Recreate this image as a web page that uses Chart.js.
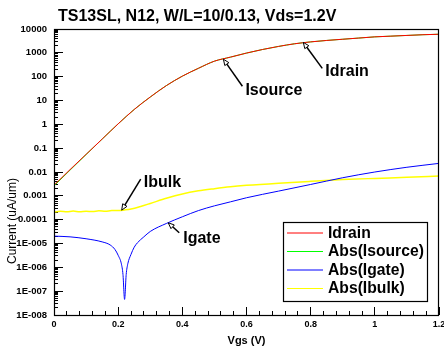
<!DOCTYPE html>
<html>
<head>
<meta charset="utf-8">
<script src="https://cdn.jsdelivr.net/npm/chart.js@4.4.1/dist/chart.umd.min.js"></script>
<style>
  html, body { margin: 0; padding: 0; background: #fff; }
  #wrap { width: 444px; height: 349px; }
</style>
</head>
<body>
<div id="wrap"><canvas id="ivChart"></canvas></div>
<script>
// Vgs sweep (V) for drain / source curves
const vgs = [0, 0.05, 0.1, 0.15, 0.2, 0.25, 0.3, 0.35, 0.4, 0.45, 0.5, 0.55, 0.6,
             0.65, 0.7, 0.75, 0.8, 0.85, 0.9, 0.95, 1.0, 1.05, 1.1, 1.15, 1.2];
const idrain = [2.8e-3, 1.26e-2, 5.5e-2, 0.24, 1.05, 4.2, 14, 42, 105, 224, 447, 660, 977,
                1380, 1860, 2400, 2880, 3310, 3720, 4170, 4680, 5010, 5370, 5750, 6030];
const isource = [2.6e-3, 1.2e-2, 5.4e-2, 0.24, 1.05, 4.2, 14, 42, 105, 224, 447, 660, 977,
                 1380, 1860, 2400, 2880, 3310, 3720, 4170, 4680, 5010, 5370, 5750, 6030];

// gate current, finer around the sign change
const vgsGate = [0, 0.05, 0.1, 0.15, 0.175, 0.19, 0.2, 0.21, 0.215, 0.22, 0.225, 0.23, 0.24,
                 0.25, 0.26, 0.28, 0.3, 0.35, 0.4, 0.45, 0.5, 0.55, 0.6, 0.7, 0.8, 0.9, 1.0, 1.1, 1.2];
const igate = [2.04e-5, 1.9e-5, 1.58e-5, 1.17e-5, 8.7e-6, 5.6e-6, 3.2e-6, 1.4e-6, 5e-7, 4.5e-8,
               5e-7, 1.4e-6, 3.5e-6, 7e-6, 1.07e-5, 1.9e-5, 3.2e-5, 6.9e-5, 1.32e-4, 2.4e-4,
               3.8e-4, 5.6e-4, 8.3e-4, 1.58e-3, 3.0e-3, 5.75e-3, 1.0e-2, 1.58e-2, 2.3e-2];

// bulk current (noisy at low Vgs)
const vgsBulk = [0, 0.02, 0.04, 0.06, 0.08, 0.1, 0.12, 0.14, 0.16, 0.18, 0.2, 0.22, 0.24,
                 0.27, 0.3, 0.35, 0.4, 0.45, 0.5, 0.55, 0.6, 0.7, 0.8, 0.9, 1.0, 1.1, 1.2];
const ibulk = [2.09e-4, 2.24e-4, 2.14e-4, 2.29e-4, 2.14e-4, 2.24e-4, 2.19e-4, 2.34e-4, 2.24e-4,
               2.4e-4, 2.4e-4, 2.57e-4, 2.82e-4, 3.6e-4, 4.8e-4, 7.9e-4, 1.2e-3, 1.62e-3, 2.0e-3,
               2.4e-3, 2.75e-3, 3.4e-3, 4.07e-3, 4.8e-3, 5.4e-3, 6.0e-3, 6.8e-3];

const seriesLabels = ['Idrain', 'Abs(Isource)', 'Abs(Igate)', 'Abs(Ibulk)'];
const seriesColors = ['#ff0000', '#00ff00', '#0000ff', '#ffff00'];

const xTicks = [0, 0.2, 0.4, 0.6, 0.8, 1.0, 1.2];
const xTickLabels = ['0', '0.2', '0.4', '0.6', '0.8', '1', '1.2'];
const yTicks = [1e-8, 1e-7, 1e-6, 1e-5, 1e-4, 1e-3, 1e-2, 1e-1, 1, 10, 100, 1000, 10000];
const yTickLabels = ['1E-008', '1E-007', '1E-006', '1E-005', '0.0001', '0.001', '0.01', '0.1',
                     '1', '10', '100', '1000', '10000'];

// callouts: tip in data units, offsets in px
const callouts = [
    { text: 'Idrain',  x: 0.777, y: 2750,   tx: 22, ty: 34, ax: 19, ay: 26 },
    { text: 'Isource', x: 0.528, y: 540,    tx: 22, ty: 36, ax: 19, ay: 27 },
    { text: 'Ibulk',   x: 0.211, y: 2.5e-4, tx: 22, ty: -23, ax: 19, ay: -31 },
    { text: 'Igate',   x: 0.356, y: 7.4e-5, tx: 15, ty: 20, ax: 11, ay: 10 }
];

const FONT = '"Liberation Sans", Arial, sans-serif';

// minor tick positions (2..9 per decade, 0.04 V steps)
const yMinorTicks = [];
for (let d = -8; d < 4; d++) {
    for (let m = 2; m <= 9; m++) yMinorTicks.push(m * Math.pow(10, d));
}
const xMinorTicks = [];
for (let k = 0; k <= 30; k++) xMinorTicks.push(+(k * 0.04).toFixed(2));

function pts(xs, ys) {
    return xs.map((x, i) => ({ x: x, y: ys[i] }));
}

const decorPlugin = {
    id: 'decor',
    afterDraw(chart) {
        const ctx = chart.ctx;
        const area = chart.chartArea;
        const xs = chart.scales.x;
        const ys = chart.scales.y;
        ctx.save();

        // frame
        ctx.strokeStyle = '#000';
        ctx.lineWidth = 1.2;
        ctx.strokeRect(area.left + 0.5, area.top + 0.5, area.right - area.left - 1, area.bottom - area.top);

        // title
        ctx.fillStyle = '#000';
        ctx.font = 'bold 16px ' + FONT;
        ctx.textAlign = 'left';
        ctx.textBaseline = 'alphabetic';
        ctx.fillText('TS13SL, N12, W/L=10/0.13, Vds=1.2V', 58, 21);

        // axis titles
        ctx.font = 'bold 11px ' + FONT;
        ctx.textAlign = 'center';
        ctx.textBaseline = 'middle';
        ctx.fillText('Vgs (V)', (area.left + area.right) / 2, 341);
        ctx.save();
        ctx.translate(13, 221);
        ctx.rotate(-Math.PI / 2);
        ctx.font = '12px ' + FONT;
        ctx.fillText('Current (uA/um)', 0, 0);
        ctx.restore();

        // callouts
        ctx.font = 'bold 16px ' + FONT;
        ctx.textAlign = 'left';
        ctx.textBaseline = 'alphabetic';
        callouts.forEach(c => {
            const px = xs.getPixelForValue(c.x);
            const py = ys.getPixelForValue(c.y);
            const tailX = px + c.ax, tailY = py + c.ay;
            const ang = Math.atan2(py - tailY, px - tailX);
            const hl = 6, hw = 2.5;
            const bx = px - hl * Math.cos(ang), by = py - hl * Math.sin(ang);
            ctx.strokeStyle = '#000';
            ctx.lineWidth = 1.5;
            ctx.beginPath();
            ctx.moveTo(tailX, tailY);
            ctx.lineTo(bx, by);
            ctx.stroke();
            ctx.beginPath();
            ctx.moveTo(px, py);
            ctx.lineTo(bx + hw * Math.sin(ang), by - hw * Math.cos(ang));
            ctx.lineTo(bx - hw * Math.sin(ang), by + hw * Math.cos(ang));
            ctx.closePath();
            ctx.fillStyle = '#fff';
            ctx.fill();
            ctx.lineWidth = 1;
            ctx.stroke();
            ctx.fillStyle = '#000';
            ctx.fillText(c.text, px + c.tx, py + c.ty);
        });

        // legend box
        const lx = 283.5, ly = 222.5, lw = 144, lh = 79;
        ctx.fillStyle = '#fff';
        ctx.fillRect(lx, ly, lw, lh);
        ctx.strokeStyle = '#000';
        ctx.lineWidth = 1.2;
        ctx.strokeRect(lx, ly, lw, lh);
        ctx.font = 'bold 15.7px ' + FONT;
        ctx.textBaseline = 'middle';
        seriesLabels.forEach((lab, i) => {
            const ry = 233 + i * 18.5;
            ctx.strokeStyle = seriesColors[i];
            ctx.lineWidth = 1;
            ctx.beginPath();
            ctx.moveTo(287, ry);
            ctx.lineTo(323, ry);
            ctx.stroke();
            ctx.fillStyle = '#000';
            ctx.fillText(lab, 328, ry + 0.5);
        });
        ctx.restore();
    }
};

const dataSets = [
    pts(vgs, idrain),
    pts(vgs, isource),
    pts(vgsGate, igate),
    pts(vgsBulk, ibulk)
];

// inward tick marks come from negative tick lengths
const tickGrid = (len) => ({
    display: true,
    drawOnChartArea: false,
    drawTicks: true,
    tickLength: -len,
    tickColor: '#000',
    tickWidth: 1
});

new Chart(document.getElementById('ivChart'), {
    type: 'line',
    data: {
        datasets: dataSets.map((d, i) => ({
            label: seriesLabels[i],
            data: d,
            borderColor: seriesColors[i],
            borderWidth: i === 3 ? 1.5 : 1,
            pointRadius: 0,
            fill: false,
            cubicInterpolationMode: 'monotone'
        }))
    },
    options: {
        responsive: true,
        maintainAspectRatio: false,
        animation: false,
        layout: { padding: { top: 29, right: 5, left: 0, bottom: 0 } },
        plugins: {
            legend: { display: false },
            title: { display: false },
            tooltip: { enabled: false }
        },
        scales: {
            x: {
                type: 'linear',
                position: 'bottom',
                weight: 1,
                min: 0,
                max: 1.2,
                grid: tickGrid(8),
                border: { display: false },
                afterFit(scale) {
                    scale.height = 34;
                    scale.paddingLeft = 0;
                    scale.paddingRight = 0;
                },
                afterBuildTicks(scale) { scale.ticks = xTicks.map(v => ({ value: v })); },
                ticks: {
                    padding: 12,
                    color: '#000',
                    autoSkip: false,
                    font: { family: FONT, size: 9, weight: 'bold' },
                    maxRotation: 0,
                    callback: (v) => xTickLabels[xTicks.indexOf(v)]
                }
            },
            xMinor: {
                type: 'linear',
                axis: 'x',
                position: 'bottom',
                weight: 0,
                min: 0,
                max: 1.2,
                grid: tickGrid(4),
                border: { display: false },
                afterFit(scale) {
                    scale.height = 0;
                    scale.paddingLeft = 0;
                    scale.paddingRight = 0;
                },
                afterBuildTicks(scale) { scale.ticks = xMinorTicks.map(v => ({ value: v })); },
                ticks: { display: false, autoSkip: false, callback: () => '' }
            },
            y: {
                type: 'logarithmic',
                position: 'left',
                weight: 1,
                min: 1e-8,
                max: 1e4,
                grid: tickGrid(9),
                border: { display: false },
                afterFit(scale) { scale.width = 54; },
                afterBuildTicks(scale) { scale.ticks = yTicks.map(v => ({ value: v })); },
                ticks: {
                    padding: 16,
                    color: '#000',
                    autoSkip: false,
                    font: { family: FONT, size: 9.5, weight: 'bold' },
                    callback: (v) => yTickLabels[Math.round(Math.log10(v)) + 8]
                }
            },
            yMinor: {
                type: 'logarithmic',
                axis: 'y',
                position: 'left',
                weight: 0,
                min: 1e-8,
                max: 1e4,
                grid: tickGrid(4),
                border: { display: false },
                afterFit(scale) {
                    scale.width = 0;
                    scale.paddingTop = 0;
                    scale.paddingBottom = 0;
                },
                afterBuildTicks(scale) { scale.ticks = yMinorTicks.map(v => ({ value: v })); },
                ticks: { display: false, autoSkip: false, callback: () => '' }
            }
        }
    },
    plugins: [decorPlugin]
});
</script>
</body>
</html>
